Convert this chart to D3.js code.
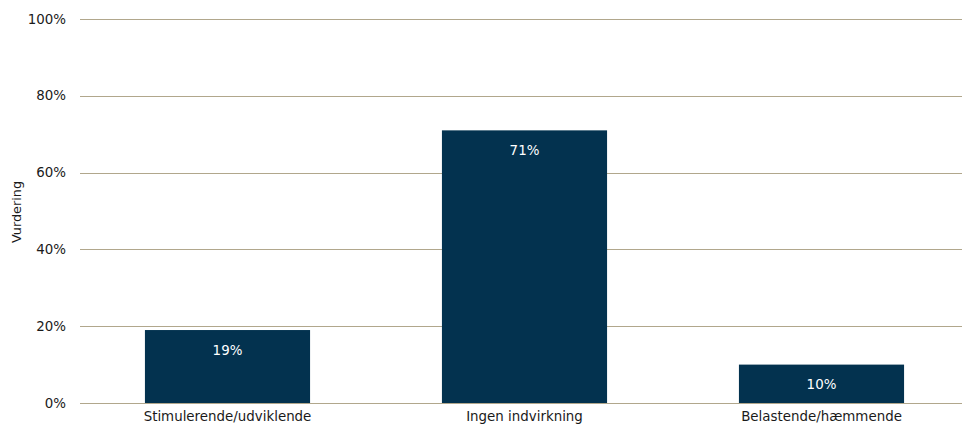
<!DOCTYPE html>
<html><head><meta charset="utf-8">
<script src="https://cdn.jsdelivr.net/npm/d3@7"></script>
<style>body{margin:0;background:#fff}svg{display:block}text{font-family:Tahoma,"DejaVu Sans",Verdana,sans-serif}</style>
</head><body>
<script>
const categories = ["Stimulerende/udviklende", "Ingen indvirkning", "Belastende/hæmmende"];
const values = [0.19, 0.71, 0.10];
const yTicks = [0, 0.2, 0.4, 0.6, 0.8, 1.0];
const yTitle = "Vurdering";

const W = 962, H = 426;
const FS = 13.4;
const svg = d3.select("body").append("svg").attr("width", W).attr("height", H);
const y = d3.scaleLinear().domain([0, 1]).range([403, 19]);
const x = d3.scaleBand().domain(categories).range([79, 970]).paddingInner(0.444).paddingOuter(0.222);
const fmt = d3.format(".0%");

// gridlines
svg.append("g").selectAll("line").data(yTicks).join("line")
  .attr("x1", 80).attr("x2", W)
  .attr("y1", d => Math.round(y(d)) + 0.5).attr("y2", d => Math.round(y(d)) + 0.5)
  .attr("stroke", "#b1a78c").attr("stroke-width", 1);

// y tick labels
svg.append("g").selectAll("text").data(yTicks).join("text")
  .attr("x", 66).attr("y", d => y(d)).attr("dy", "0.35em")
  .attr("text-anchor", "end").attr("font-size", FS).attr("fill", "#1a1a1a")
  .text(d => fmt(d));

// y title
svg.append("text").attr("transform", "translate(21,212) rotate(-90)")
  .attr("text-anchor", "middle").attr("font-size", FS - 0.6).attr("fill", "#1a1a1a").text(yTitle);

// bars
svg.append("g").selectAll("rect").data(values).join("rect")
  .attr("x", (d, i) => x(categories[i])).attr("width", x.bandwidth())
  .attr("y", d => y(d)).attr("height", d => y(0) - y(d))
  .attr("fill", "#03324f");

// value labels
svg.append("g").selectAll("text").data(values).join("text")
  .attr("x", (d, i) => x(categories[i]) + x.bandwidth() / 2)
  .attr("y", d => y(d) + 20).attr("dy", "0.35em")
  .attr("text-anchor", "middle").attr("font-size", FS).attr("fill", "#ffffff")
  .text(d => fmt(d));

// x labels
svg.append("g").selectAll("text").data(categories).join("text")
  .attr("x", d => x(d) + x.bandwidth() / 2).attr("y", 416).attr("dy", "0.35em")
  .attr("text-anchor", "middle").attr("font-size", FS).attr("fill", "#1a1a1a")
  .text(d => d);
</script>
</body></html>
